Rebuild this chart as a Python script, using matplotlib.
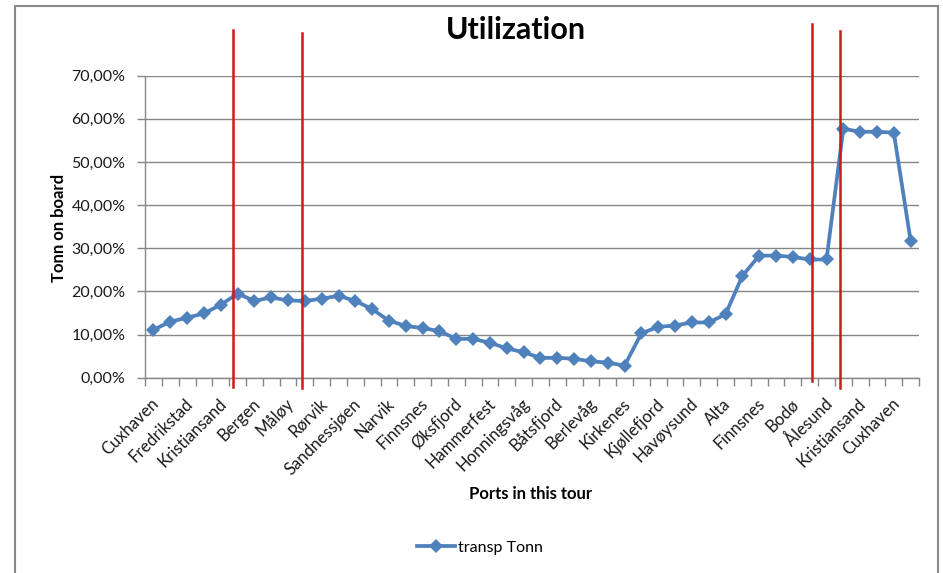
import matplotlib
matplotlib.use("Agg")
import matplotlib.pyplot as plt
import matplotlib.transforms as mtransforms
from matplotlib.patches import Rectangle
from matplotlib.ticker import FuncFormatter

plt.rcParams['font.family'] = ['Lato', 'DejaVu Sans']

# every second stop of the tour carries a label
ports = ["Cuxhaven", "Fredrikstad", "Kristiansand", "Bergen", "Måløy", "Rørvik",
         "Sandnessjøen", "Narvik", "Finnsnes", "Øksfjord", "Hammerfest",
         "Honningsvåg", "Båtsfjord", "Berlevåg", "Kirkenes", "Kjøllefjord",
         "Havøysund", "Alta", "Finnsnes", "Bodø", "Ålesund", "Kristiansand",
         "Cuxhaven"]

# tonnes on board as share of capacity (%), one value per stop
transp_tonn = [11.1, 13.0, 13.9, 14.9, 16.9, 19.5, 17.8, 18.6, 17.9, 17.8,
               18.3, 19.0, 17.8, 15.9, 13.2, 12.0, 11.5, 10.8, 9.0, 9.0,
               8.1, 6.8, 5.9, 4.6, 4.6, 4.4, 3.8, 3.5, 2.8, 10.3,
               11.8, 12.1, 12.8, 12.8, 14.7, 23.6, 28.3, 28.3, 28.0, 27.4,
               27.4, 57.7, 57.0, 57.0, 56.8, 31.7]

# section markers between legs of the tour (stop index units)
section_breaks = [4.7, 8.8, 39.15, 40.8]

grey = '#868686'
blue = '#4f81bd'

fig = plt.figure(figsize=(9.43, 5.73), dpi=100)
ax = fig.add_axes([0.1538, 0.3408, 0.8208, 0.5271])

stops = list(range(len(transp_tonn)))
line, = ax.plot(stops, transp_tonn, color=blue, lw=2.7, marker='D', ms=7.5,
                markeredgewidth=0, zorder=3)

ax.set_xlim(-0.5, len(transp_tonn) - 0.5)
ax.set_ylim(0, 70)
ax.set_yticks(range(0, 71, 10))
ax.yaxis.set_major_formatter(FuncFormatter(lambda v, p: f"{v:.2f}".replace('.', ',') + '%'))
ax.yaxis.grid(True, color=grey, lw=1.0)
ax.set_axisbelow(True)

# tick marks between categories, labels on every second stop
ax.set_xticks([i - 0.5 for i in range(len(transp_tonn) + 1)])
ax.set_xticklabels([])
ax.set_xticks(stops[::2], minor=True)
ax.set_xticklabels(ports, minor=True, rotation=45, ha='right', va='center',
                   rotation_mode='anchor', fontsize=12, color='#1a1a1a')
ax.tick_params(axis='x', which='major', length=6, color=grey, width=1)
ax.tick_params(axis='x', which='minor', length=0, pad=17)
ax.tick_params(axis='y', length=6, color=grey, width=1, pad=8,
               labelsize=11.5, labelcolor='#1a1a1a')
shift = mtransforms.ScaledTranslation(3 / 100, 0, fig.dpi_scale_trans)
for lab in ax.get_xticklabels(minor=True):
    lab.set_transform(lab.get_transform() + shift)

for side in ['top', 'right']:
    ax.spines[side].set_visible(False)
for side in ['left', 'bottom']:
    ax.spines[side].set_color(grey)
    ax.spines[side].set_linewidth(1.0)

# red section lines reaching above and below the plot area
trans = mtransforms.blended_transform_factory(ax.transData, ax.transAxes)
extents = [(-0.031, 1.151), (-0.034, 1.141), (-0.011, 1.171), (-0.034, 1.148)]
for x, (y0, y1) in zip(section_breaks, extents):
    ax.plot([x, x], [y0, y1], transform=trans, color='#d01818', lw=1.8,
            clip_on=False, zorder=4)

fig.text(0.547, 0.948, 'Utilization', ha='center', va='center',
         fontsize=22, fontweight='bold')
fig.text(0.563, 0.138, 'Ports in this tour', ha='center', va='center',
         fontsize=12, fontweight='bold')
fig.text(0.0626, 0.603, 'Tonn on board', ha='center', va='center',
         rotation=90, fontsize=12, fontweight='bold')

fig.legend([line], ['transp Tonn'], loc='center', bbox_to_anchor=(0.509, 0.044),
           frameon=False, fontsize=11.5, handlelength=2.4, handletextpad=0.2)

# chart area border
fig.patches.append(Rectangle((15 / 943, -0.02), 923 / 943, 1 - 6 / 573 + 0.02,
                             transform=fig.transFigure, fill=False,
                             edgecolor='#8a8a8a', lw=1.5))

fig.savefig('out.png', dpi=100)
